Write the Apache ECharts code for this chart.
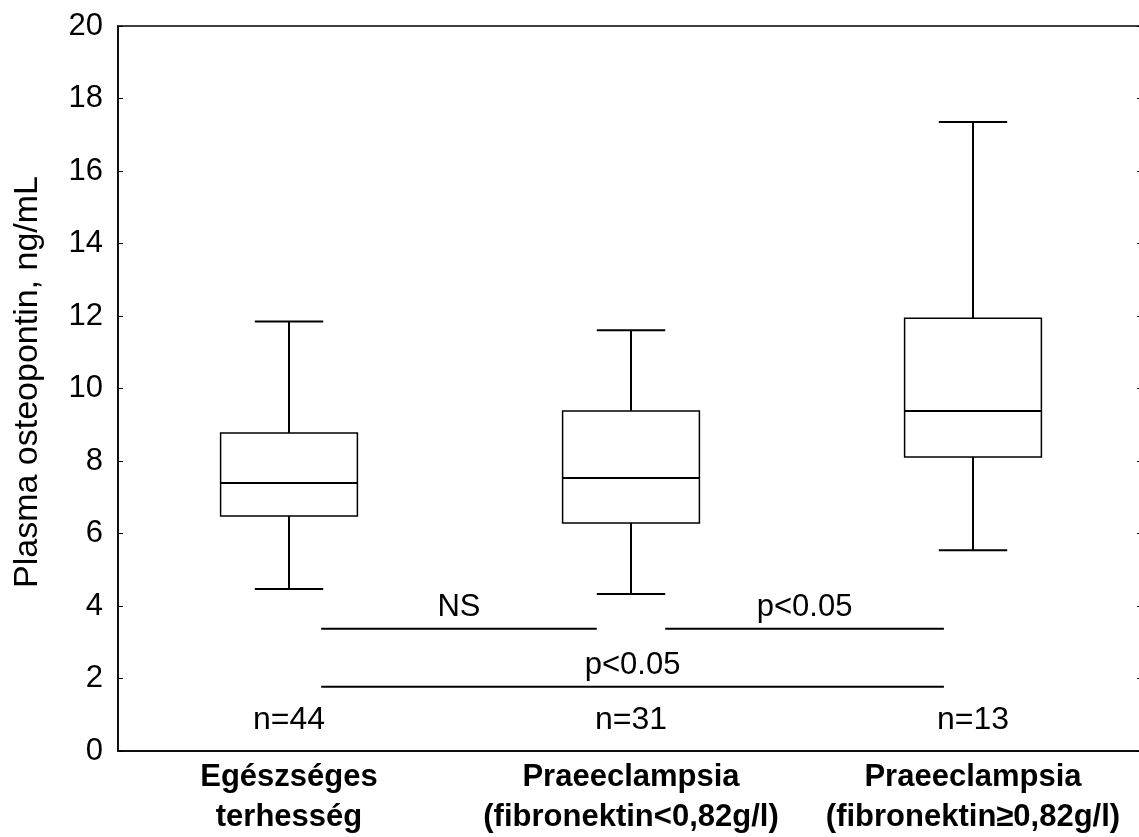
<!DOCTYPE html>
<html>
<head>
<meta charset="utf-8">
<script src="https://cdn.jsdelivr.net/npm/echarts@6/dist/echarts.min.js"></script>
<style>
html,body{margin:0;padding:0;background:#fff;}
#chart{width:1139px;height:837px;}
</style>
</head>
<body>
<div id="chart"></div>
<script>
var categories = ['Egészséges\nterhesség', 'Praeeclampsia\n(fibronektin<0,82g/l)', 'Praeeclampsia\n(fibronektin\u22650,82g/l)'];
var whiskerLow = [4.47, 4.33, 5.54];
var q1 = [6.48, 6.29, 8.11];
var median = [7.39, 7.53, 9.38];
var q3 = [8.77, 9.38, 11.94];
var whiskerHigh = [11.85, 11.61, 17.35];
var nLabels = ['n=44', 'n=31', 'n=13'];
var nLabelY = 0.86;
var bracketFrom = [0.094, 1.10, 0.094];
var bracketTo = [0.90, 1.915, 1.915];
var bracketY = [3.37, 3.37, 1.77];
var bracketText = ['NS', 'p<0.05', 'p<0.05'];
var yTicks = [0, 2, 4, 6, 8, 10, 12, 14, 16, 18, 20];

var boxData = categories.map(function (c, i) {
  return [i, whiskerLow[i], q1[i], median[i], q3[i], whiskerHigh[i]];
});
var nData = nLabels.map(function (t, i) { return [i, nLabelY, t]; });
var bracketData = bracketText.map(function (t, i) { return [bracketFrom[i], bracketTo[i], bracketY[i], t]; });

var FONT = 'Liberation Sans, Arial, sans-serif';

function renderBox(params, api) {
  var idx = api.value(0);
  var band = api.size([1, 0])[0];
  var pLow = api.coord([idx, api.value(1)]);
  var pQ1 = api.coord([idx, api.value(2)]);
  var pMed = api.coord([idx, api.value(3)]);
  var pQ3 = api.coord([idx, api.value(4)]);
  var pHigh = api.coord([idx, api.value(5)]);
  var cx = pLow[0];
  var bw = band * 0.40;
  var cw = band * 0.20;
  var st = { stroke: '#000', lineWidth: 2 };
  return {
    type: 'group',
    children: [
      { type: 'line', shape: { x1: cx, y1: pHigh[1], x2: cx, y2: pQ3[1] }, style: st },
      { type: 'line', shape: { x1: cx, y1: pQ1[1], x2: cx, y2: pLow[1] }, style: st },
      { type: 'line', shape: { x1: cx - cw / 2, y1: pHigh[1], x2: cx + cw / 2, y2: pHigh[1] }, style: st },
      { type: 'line', shape: { x1: cx - cw / 2, y1: pLow[1], x2: cx + cw / 2, y2: pLow[1] }, style: st },
      { type: 'rect', shape: { x: cx - bw / 2, y: pQ3[1], width: bw, height: pQ1[1] - pQ3[1] },
        style: { fill: '#fff', stroke: '#000', lineWidth: 1.5 } },
      { type: 'line', shape: { x1: cx - bw / 2, y1: pMed[1], x2: cx + bw / 2, y2: pMed[1] }, style: st }
    ]
  };
}

function renderBracket(params, api) {
  var band = api.size([1, 0])[0];
  var y = api.value(2);
  var f = api.value(0), t = api.value(1);
  var p0 = api.coord([0, y]);
  var x0 = p0[0] + f * band;
  var x1 = p0[0] + t * band;
  return {
    type: 'group',
    children: [
      { type: 'line', shape: { x1: x0, y1: p0[1], x2: x1, y2: p0[1] }, style: { stroke: '#000', lineWidth: 2 } },
      { type: 'text', x: (x0 + x1) / 2, y: p0[1] - 6,
        style: { text: api.value(3), fill: '#000', font: '31px ' + FONT, align: 'center', verticalAlign: 'bottom' } }
    ]
  };
}

function renderN(params, api) {
  var p = api.coord([api.value(0), api.value(1)]);
  return { type: 'text', x: p[0], y: p[1],
    style: { text: api.value(2), fill: '#000', font: '32px ' + FONT, align: 'center', verticalAlign: 'middle' } };
}

var chart = echarts.init(document.getElementById('chart'));
chart.setOption({
  backgroundColor: '#fff',
  animation: false,
  grid: { left: 118, width: 1026, top: 26, bottom: 86, show: true, borderColor: '#000', borderWidth: 1.5,
          outerBoundsMode: 'none', containLabel: false },
  xAxis: {
    type: 'category',
    data: categories,
    boundaryGap: true,
    axisLine: { lineStyle: { color: '#000', width: 1.5 } },
    axisTick: { inside: true, alignWithLabel: true, length: 5, lineStyle: { color: '#000' } },
    axisLabel: { color: '#000', fontFamily: FONT, fontWeight: 'bold', fontSize: 31, lineHeight: 40, margin: 6, interval: 0 },
    splitLine: { show: false }
  },
  yAxis: [{
    type: 'value',
    min: yTicks[0],
    max: yTicks[yTicks.length - 1],
    interval: 2,
    name: 'Plasma osteopontin, ng/mL',
    nameLocation: 'middle',
    nameGap: 73,
    nameTextStyle: { color: '#000', fontFamily: FONT, fontSize: 34, padding: [0, 0, 0, 13] },
    axisLine: { show: true, lineStyle: { color: '#000', width: 1.5 } },
    axisTick: { show: true, inside: true, length: 5, lineStyle: { color: '#000' } },
    axisLabel: { color: '#000', fontFamily: FONT, fontSize: 31, margin: 15 },
    splitLine: { show: false }
  }, {
    type: 'value',
    position: 'right',
    min: yTicks[0],
    max: yTicks[yTicks.length - 1],
    interval: 2,
    axisLine: { show: true, lineStyle: { color: '#000', width: 1 } },
    axisTick: { show: true, inside: true, length: 7, lineStyle: { color: '#000' } },
    axisLabel: { show: false },
    splitLine: { show: false }
  }],
  series: [
    { type: 'custom', renderItem: renderBox, data: boxData, encode: { x: 0, y: [1, 2, 3, 4, 5] }, silent: true },
    { type: 'custom', renderItem: renderBracket, data: bracketData, encode: { y: 2 }, silent: true },
    { type: 'custom', renderItem: renderN, data: nData, encode: { x: 0, y: 1 }, silent: true }
  ]
});
</script>
</body>
</html>
